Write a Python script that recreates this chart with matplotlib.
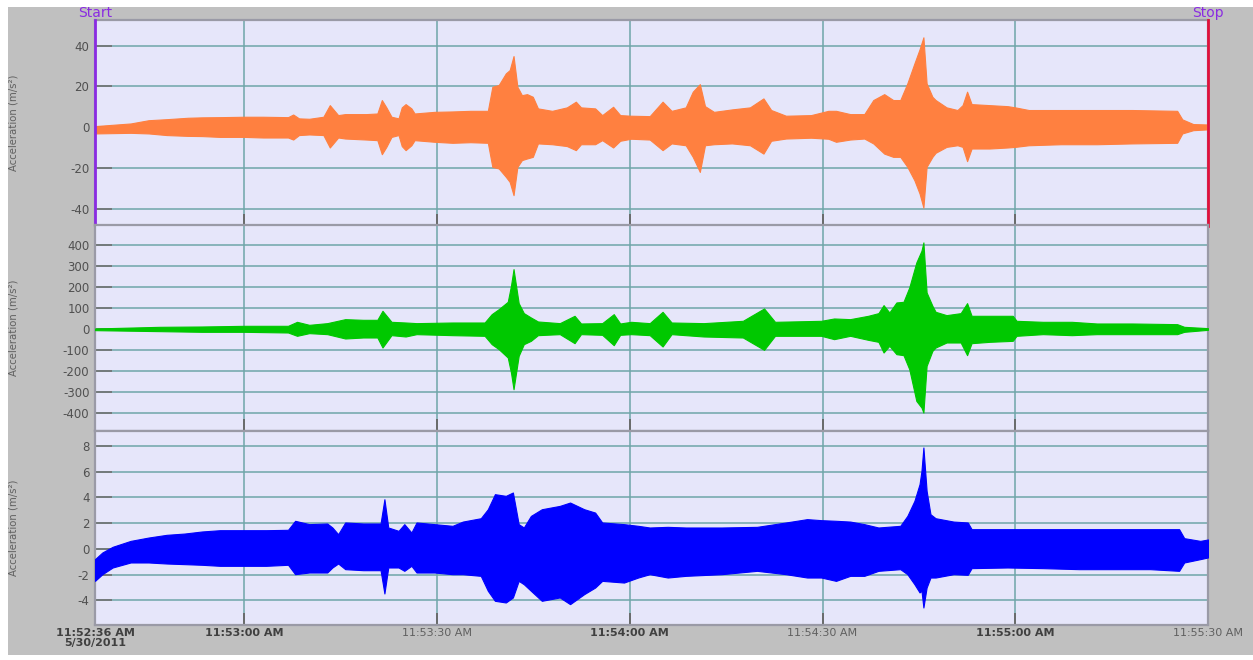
import matplotlib
matplotlib.use('Agg')
import matplotlib.pyplot as plt
from matplotlib.patches import Rectangle

# envelope of each accelerometer channel, seconds after 11:52:36
t_top = [0.75, 6.3, 9.1, 11.9, 15.2, 17.4, 20.2, 24.0, 26.9, 30.8,
         31.6, 32.5, 34.1, 36.3, 37.3, 38.6, 39.7, 43.0, 44.7, 45.4,
         46.1, 46.9, 48.0, 48.5, 49.1, 50.0, 50.5, 53.6, 56.4, 59.2,
         61.9, 62.6, 63.6, 64.7, 65.3, 65.9, 66.5, 67.2, 68.0, 68.9,
         69.7, 71.9, 74.2, 75.6, 76.4, 78.6, 79.7, 81.4, 82.5, 84.2,
         87.1, 89.1, 90.5, 92.7, 93.8, 94.9, 95.7, 97.1, 99.9, 102.7,
         104.8, 106.0, 108.3, 112.2, 114.9, 116.1, 118.3, 120.5, 121.9, 123.6,
         125.0, 126.1, 127.2, 128.3, 129.1, 129.7, 130.2, 131.1, 131.6, 133.3,
         135.0, 135.8, 136.5, 137.2, 140.0, 142.8, 144.0, 146.1, 151.1, 156.7,
         162.2, 169.2, 170.0, 171.7, 174.0]
hi_top = [0.5, 1.8, 3.4, 3.9, 4.6, 4.8, 4.9, 5.1, 5.1, 4.9,
          6.2, 4.3, 4.1, 5.1, 10.8, 5.9, 6.4, 6.4, 6.7, 13.3,
          9.7, 5.1, 4.3, 9.7, 11.3, 9.2, 6.7, 7.5, 7.7, 8.0,
          8.0, 19.8, 20.7, 26.4, 28.0, 34.9, 19.8, 15.7, 16.2, 14.9,
          9.2, 8.0, 9.7, 12.5, 9.7, 9.2, 5.9, 10.0, 5.9, 5.6,
          5.4, 12.5, 8.0, 9.7, 17.4, 21.1, 10.3, 7.5, 8.7, 9.7,
          14.1, 8.4, 5.6, 5.9, 8.0, 8.0, 6.4, 6.4, 13.3, 16.2,
          13.3, 13.3, 21.5, 31.3, 38.2, 44.1, 21.5, 14.9, 13.3, 9.7,
          8.4, 10.8, 17.4, 11.3, 10.8, 10.3, 9.7, 8.4, 8.4, 8.4,
          8.4, 8.0, 3.8, 1.5, 1.3]
lo_top = [-3.1, -2.8, -3.1, -3.9, -4.3, -4.4, -4.8, -4.8, -5.1, -5.1,
          -6.1, -3.9, -3.6, -3.9, -10.0, -5.1, -5.6, -6.1, -6.4, -13.3,
          -9.7, -4.8, -3.9, -9.3, -11.3, -8.9, -6.4, -7.2, -7.7, -7.4,
          -7.7, -19.5, -20.3, -24.4, -26.9, -33.4, -19.5, -16.2, -15.4, -14.6,
          -8.0, -8.4, -9.3, -11.3, -8.4, -8.4, -6.4, -10.0, -6.7, -5.7,
          -6.1, -11.3, -8.0, -8.9, -14.6, -22.0, -8.9, -8.4, -8.0, -8.9,
          -13.0, -6.7, -5.6, -5.2, -5.7, -7.2, -6.1, -5.6, -8.0, -13.0,
          -14.6, -14.6, -19.5, -26.1, -32.6, -39.5, -19.5, -14.6, -12.6, -9.7,
          -8.9, -9.7, -16.7, -10.5, -10.5, -10.0, -9.7, -8.9, -8.4, -8.4,
          -8.0, -7.7, -3.1, -1.5, -1.1]

t_mid = [0.75, 10.8, 17.4, 24.0, 30.8, 32.2, 34.1, 36.9, 39.7, 42.5,
         44.7, 45.5, 46.9, 49.1, 50.8, 56.4, 61.4, 62.5, 63.6, 65.0,
         65.5, 65.9, 66.7, 67.5, 68.6, 69.7, 73.1, 75.4, 76.4, 79.7,
         81.5, 82.5, 84.2,
         87.1, 89.1, 90.5, 95.5, 101.6, 104.9, 106.6, 113.8, 115.8, 118.3,
         121.1, 122.7, 123.5, 124.4, 125.5, 126.6, 127.5, 128.6, 129.4, 129.7,
         130.2, 131.1, 131.6, 133.3, 135.5, 136.5, 137.2, 140.0, 143.6, 144.2,
         148.3, 152.8, 156.7, 162.2, 169.2, 170.3, 174.0]
hi_mid = [3.2, 11.1, 12.7, 15.9, 15.9, 34.9, 20.6, 28.6, 47.6, 44.4,
          44.4, 87.3, 34.9, 31.7, 28.6, 31.7, 31.7, 71.4, 95.2, 130.1,
          206.3, 285.7, 123.8, 76.2, 55.6, 36.5, 28.6, 63.5, 27.0, 28.6,
          71.4, 27.0, 34.9,
          28.6, 82.5, 31.7, 28.6, 39.7, 98.4, 34.9, 39.7, 50.8, 47.6,
          63.5, 76.2, 114.3, 79.4, 127.0, 130.1, 198.4, 317.4, 373.0, 412.6,
          174.6, 111.1, 82.5, 66.7, 76.2, 123.8, 63.5, 63.5, 63.5, 39.7,
          34.9, 34.9, 27.0, 27.0, 23.8, 11.1, 4.8]
lo_mid = [-4.8, -9.5, -12.7, -12.7, -15.9, -31.7, -19.0, -23.8, -44.4, -39.7,
          -39.7, -87.3, -28.6, -34.9, -23.8, -28.6, -31.7, -71.4, -95.2, -134.9,
          -206.3, -285.7, -127.0, -71.4, -55.6, -28.6, -23.8, -66.7, -23.8, -27.0,
          -76.2, -27.0, -23.8,
          -28.6, -82.5, -23.8, -34.9, -39.7, -98.4, -31.7, -31.7, -47.6, -31.7,
          -50.8, -60.3, -111.1, -79.4, -119.0, -123.8, -190.4, -341.2, -373.0, -396.8,
          -174.6, -103.2, -87.3, -63.5, -63.5, -123.8, -66.7, -60.3, -55.6, -31.7,
          -23.8, -28.6, -23.8, -23.8, -23.8, -12.7, -3.2]

t_bot = [0.75, 1.9, 3.5, 6.3, 9.1, 11.9, 14.7, 17.4, 20.2, 24.0,
         27.4, 30.8, 31.9, 34.1, 36.9, 37.7, 38.6, 39.7, 42.5, 45.2,
         45.8, 46.4, 48.0, 48.9, 50.0, 50.8, 53.6, 56.4, 58.0, 60.8,
         61.9, 63.0, 64.7, 65.8, 66.7, 67.5, 68.6, 70.3, 73.1, 74.7,
         76.9, 78.6, 79.7, 83.1, 85.3,
         87.1, 89.9, 92.7, 98.3, 103.8, 108.3, 111.6, 113.8, 116.1, 118.3,
         120.5, 122.7, 126.1, 127.2, 128.3, 129.1, 129.4, 129.7, 130.2, 130.8,
         131.6, 134.4, 136.6, 137.2, 142.8, 148.3, 153.9, 159.5, 165.0, 169.5,
         170.3, 172.8, 174.0]
hi_bot = [-0.80, -0.28, 0.16, 0.62, 0.88, 1.09, 1.19, 1.35, 1.45, 1.45,
          1.45, 1.48, 2.18, 1.92, 1.97, 1.66, 1.14, 2.05, 1.97, 1.97,
          3.86, 1.66, 1.40, 1.92, 1.27, 2.05, 1.92, 1.79, 2.12, 2.38,
          3.08, 4.25, 4.12, 4.38, 1.92, 1.66, 2.56, 3.08, 3.34, 3.60,
          3.08, 2.82, 2.05, 1.92, 1.79,
          1.66, 1.71, 1.66, 1.66, 1.71, 2.05, 2.31, 2.23, 2.18, 2.12,
          1.92, 1.66, 1.79, 2.56, 3.73, 5.03, 6.06, 7.88, 4.51, 2.69,
          2.38, 2.12, 2.05, 1.53, 1.53, 1.53, 1.53, 1.53, 1.53, 1.53,
          0.83, 0.62, 0.73]
lo_bot = [-2.49, -1.97, -1.45, -1.06, -1.06, -1.14, -1.19, -1.24, -1.32, -1.32,
          -1.32, -1.24, -1.97, -1.84, -1.84, -1.45, -1.14, -1.58, -1.66, -1.66,
          -3.47, -1.45, -1.45, -1.71, -1.32, -1.84, -1.84, -1.97, -1.97, -2.10,
          -3.26, -4.04, -4.17, -3.78, -2.49, -2.75, -3.26, -4.04, -3.78, -4.30,
          -3.52, -3.01, -2.49, -2.62, -2.23,
          -1.97, -2.23, -2.10, -1.97, -1.71, -1.97, -2.23, -2.23, -2.49, -2.10,
          -2.10, -1.71, -1.58, -1.97, -2.75, -3.39, -3.26, -4.56, -3.01, -2.23,
          -2.23, -1.97, -2.02, -1.50, -1.45, -1.50, -1.58, -1.58, -1.58, -1.71,
          -1.06, -0.80, -0.67]

time_ticks = [0.75, 24, 54, 84, 114, 144, 174]
time_labels = ['11:52:36 AM\n5/30/2011', '11:53:00 AM', '11:53:30 AM', '11:54:00 AM',
               '11:54:30 AM', '11:55:00 AM', '11:55:30 AM']
bold_labels = [True, True, False, True, False, True, False]

yticks_top = [-40, -20, 0, 20, 40]
yticks_mid = [-400, -300, -200, -100, 0, 100, 200, 300, 400]
yticks_bot = [-4, -2, 0, 2, 4, 6, 8]

W, H = 1253, 660
fig = plt.figure(figsize=(W / 100, H / 100), dpi=100, facecolor='white')
fig.patches.append(Rectangle((8 / W, 5 / H), 1 - 8 / W, (H - 12) / H,
                             transform=fig.transFigure, facecolor='#c0c0c0',
                             edgecolor='none', zorder=-10))

def px_box(top, bottom):
    return [95 / W, 1 - bottom / H, 1113 / W, (bottom - top) / H]

panels = [
    (px_box(20, 225.5), t_top, hi_top, lo_top, '#ff8040', (-48.3, 52.6), yticks_top),
    (px_box(225.5, 430.5), t_mid, hi_mid, lo_mid, '#00c800', (-482, 493), yticks_mid),
    (px_box(430.5, 625), t_bot, hi_bot, lo_bot, '#0000ff', (-5.92, 9.2), yticks_bot),
]

axes = []
for box, t, hi, lo, col, ylim, yt in panels:
    ax = fig.add_axes(box)
    ax.set_facecolor('#e6e6fa')
    ax.fill_between(t, lo, hi, color=col, lw=0.8, edgecolor=col, zorder=3)
    ax.set_xlim(0.75, 174)
    ax.set_ylim(*ylim)
    ax.set_yticks(yt)
    ax.set_yticklabels([str(v) for v in yt])
    ax.set_xticks(time_ticks)
    ax.set_axisbelow(True)
    ax.grid(True, color='#6fa5a8', lw=1.1)
    ax.tick_params(axis='y', direction='in', length=12, width=1.2, color='#707070',
                   labelsize=8.5, labelcolor='#505050', pad=4)
    ax.tick_params(axis='x', direction='in', length=8.5, width=1.4, color='#6a6a6a',
                   labelsize=8, labelcolor='#404040', pad=2)
    for s in ax.spines.values():
        s.set_color('#9a9aa6')
        s.set_linewidth(1.6)
    ax.set_ylabel('Acceleration (m/s²)', fontsize=7.3, color='#606060')
    ax.yaxis.set_label_coords(-0.069, 0.5)
    axes.append(ax)

for ax in axes[:2]:
    ax.set_xticklabels([])

axes[2].set_xticklabels(time_labels)
for lab, b in zip(axes[2].get_xticklabels(), bold_labels):
    lab.set_fontweight('bold' if b else 'normal')
    lab.set_color('#404040' if b else '#606060')
    lab.set_linespacing(1.0)

# start / stop markers on the first channel
top = axes[0]
top.axvline(0.75, color='#8a2be2', lw=2, zorder=5, clip_on=False)
top.axvline(174, color='#e0103c', lw=2, zorder=5, clip_on=False)
top.text(0.75, 1.0, 'Start', transform=top.get_xaxis_transform(), color='#8a2be2',
         fontsize=10, ha='center', va='bottom')
top.text(174, 1.0, 'Stop', transform=top.get_xaxis_transform(), color='#8a2be2',
         fontsize=10, ha='center', va='bottom')

fig.savefig('out.png', dpi=100, facecolor=fig.get_facecolor())
